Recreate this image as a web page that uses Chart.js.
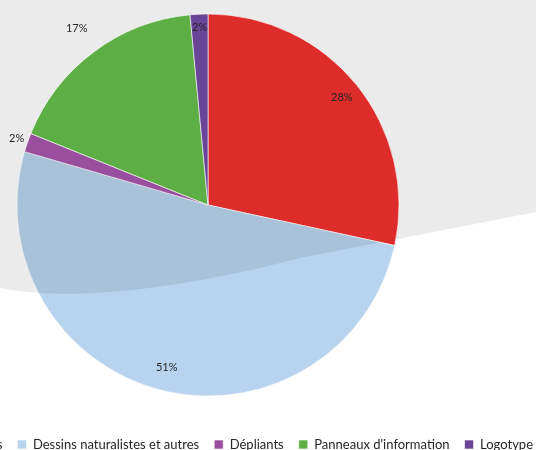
<!DOCTYPE html>
<html>
<head>
<meta charset="utf-8">
<script src="https://cdn.jsdelivr.net/npm/chart.js@4"></script>
<style>
  html, body { margin: 0; padding: 0; overflow: hidden; background: #fff; }
  #frame { position: relative; width: 536px; height: 450px; overflow: hidden; }
  #holder { position: absolute; left: -352px; top: -13px; width: 900px; height: 474px; }
</style>
</head>
<body>
<div id="frame"><div id="holder"><canvas id="chart"></canvas></div></div>
<script>
// values (share of each slice, %)
const categories = ['Illustrations graphiques', 'Dessins naturalistes et autres', 'Dépliants', "Panneaux d'information", 'Logotype'];
const shares = [28.4, 51.1, 1.6, 17.4, 1.5];
const sliceColors = ['#dd2c2a', '#b7d3ed', '#9a4e9e', '#5daf45', '#6a4497'];
// how far out each percent label sits (fraction of radius), like Excel's "best fit"
const labelRadius = [0.9, 0.88, 1.06, 1.15, 0.93];

const OX = 352, OY = 13; // canvas is offset inside the page frame
const GREY = '#ebebeb';

function greyShape(ctx) {
    ctx.beginPath();
    ctx.moveTo(OX + 0, OY + 0);
    ctx.lineTo(OX + 536, OY + 0);
    ctx.lineTo(OX + 536, OY + 212);
    ctx.lineTo(OX + 300, OY + 258);
    ctx.quadraticCurveTo(OX + 170, OY + 292, OX + 70, OY + 294);
    ctx.quadraticCurveTo(OX + 25, OY + 293, OX + 0, OY + 288);
    ctx.closePath();
}

// empty box on the left so the pie sits left of the legend's centre
const leftSpacer = {
    id: 'leftSpacer',
    beforeInit(chart) {
        Chart.layouts.addBox(chart, {
            position: 'left',
            weight: 0,
            fullSize: false,
            options: {},
            isHorizontal() { return false; },
            update(maxWidth, maxHeight) {
                this.width = 220;
                this.height = maxHeight;
            },
            draw() {}
        });
    }
};

const backdrop = {
    id: 'backdrop',
    beforeDraw(chart) {
        const ctx = chart.ctx;
        ctx.save();
        greyShape(ctx);
        ctx.fillStyle = GREY;
        ctx.fill();
        ctx.restore();
    },
    afterDatasetsDraw(chart) {
        // the light blue slice looks multiplied over the grey band
        const ctx = chart.ctx;
        const arc = chart.getDatasetMeta(0).data[1];
        ctx.save();
        ctx.beginPath();
        ctx.moveTo(arc.x, arc.y);
        ctx.arc(arc.x, arc.y, arc.outerRadius, arc.startAngle, arc.endAngle);
        ctx.closePath();
        ctx.clip();
        ctx.globalCompositeOperation = 'multiply';
        greyShape(ctx);
        ctx.fillStyle = GREY;
        ctx.fill();
        ctx.restore();
    }
};

const percentLabels = {
    id: 'percentLabels',
    afterDatasetsDraw(chart) {
        const ctx = chart.ctx;
        const total = shares.reduce((a, b) => a + b, 0);
        const arcs = chart.getDatasetMeta(0).data;
        ctx.save();
        ctx.font = '11px Lato';
        ctx.fillStyle = '#262626';
        ctx.textAlign = 'center';
        ctx.textBaseline = 'middle';
        for (let i = 0; i < arcs.length; i++) {
            const a = arcs[i];
            const mid = (a.startAngle + a.endAngle) / 2;
            const r = a.outerRadius * labelRadius[i];
            const x = a.x + Math.cos(mid) * r;
            const y = a.y + Math.sin(mid) * r;
            ctx.fillText(Math.round(shares[i] / total * 100) + '%', x, y);
        }
        ctx.restore();
    }
};

new Chart(document.getElementById('chart'), {
    type: 'pie',
    data: {
        labels: categories,
        datasets: [{
            data: shares,
            backgroundColor: sliceColors,
            borderColor: 'rgba(255,255,255,0.6)',
            borderWidth: 1,
            radius: 191
        }]
    },
    options: {
        responsive: true,
        maintainAspectRatio: false,
        animation: false,
        plugins: {
            legend: {
                position: 'bottom',
                align: 'end',
                labels: {
                    boxWidth: 9,
                    boxHeight: 9,
                    padding: 15,
                    color: '#262626',
                    font: { family: 'Lato', size: 13 }
                }
            },
            tooltip: { enabled: false }
        }
    },
    plugins: [leftSpacer, backdrop, percentLabels]
});
</script>
</body>
</html>
